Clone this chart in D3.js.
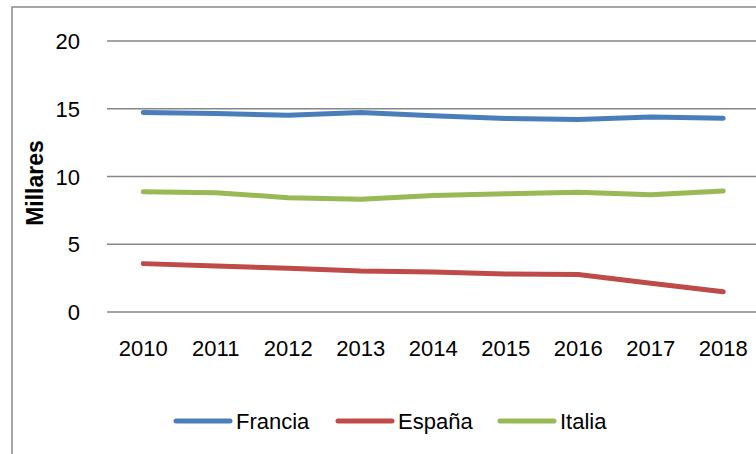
<!DOCTYPE html>
<html>
<head>
<meta charset="utf-8">
<script src="https://cdn.jsdelivr.net/npm/d3@7"></script>
<style>
  html, body { margin: 0; padding: 0; background: #fff; }
  svg { display: block; font-family: "Liberation Sans", Arial, sans-serif; }
</style>
</head>
<body>
<svg id="chart" width="756" height="454"></svg>
<script>
const years = ["2010","2011","2012","2013","2014","2015","2016","2017","2018"];
const francia = [14.72, 14.65, 14.52, 14.72, 14.48, 14.28, 14.2, 14.4, 14.3];
const espana  = [3.57, 3.4, 3.22, 3.03, 2.96, 2.8, 2.76, 2.12, 1.5];
const italia  = [8.88, 8.8, 8.44, 8.32, 8.6, 8.72, 8.84, 8.66, 8.93];
const yTicks = [0, 5, 10, 15, 20];
const seriesNames = ["Francia", "España", "Italia"];
const seriesColors = ["#4A7EBB", "#BE4B48", "#98B954"];
const yTitle = "Millares";

const series = [francia, espana, italia].map((v, i) => ({ name: seriesNames[i], values: v, color: seriesColors[i] }));

const svg = d3.select("#chart");

// outer frame
svg.append("rect").attr("x", 12).attr("y", 7).attr("width", 760).attr("height", 460)
  .attr("fill", "none").attr("stroke", "#898989").attr("stroke-width", 1.5);

const x = d3.scaleBand().domain(years).range([107, 759.5]);
const y = d3.scaleLinear().domain([0, 20]).range([312, 41]);

// gridlines
svg.append("g").selectAll("line").data(yTicks).join("line")
  .attr("x1", 107).attr("x2", 760)
  .attr("y1", d => y(d)).attr("y2", d => y(d))
  .attr("stroke", "#868686").attr("stroke-width", 1.5);

// y axis labels
const yAxis = d3.axisLeft(y).tickValues(yTicks).tickSize(0).tickPadding(0);
const gy = svg.append("g").attr("transform", "translate(80,0)").call(yAxis);
gy.select(".domain").remove();
gy.selectAll("text").attr("font-size", 22).attr("fill", "#000")
  .attr("font-family", "Liberation Sans, Arial, sans-serif").attr("dy", "0.35em");

// x axis labels
const xAxis = d3.axisBottom(x).tickSize(0).tickPadding(0);
const gx = svg.append("g").attr("transform", "translate(0,340)").call(xAxis);
gx.select(".domain").remove();
gx.selectAll("text").attr("font-size", 22).attr("fill", "#000")
  .attr("font-family", "Liberation Sans, Arial, sans-serif").attr("dy", "0.71em");

// y title
svg.append("text").attr("transform", "translate(43,183) rotate(-90)")
  .attr("text-anchor", "middle").attr("font-size", 23).attr("font-weight", "bold")
  .text(yTitle);

// lines
const line = d3.line().x((d, i) => x(years[i]) + x.bandwidth() / 2).y(d => y(d));
svg.append("g").selectAll("path").data(series).join("path")
  .attr("d", d => line(d.values))
  .attr("fill", "none").attr("stroke", d => d.color).attr("stroke-width", 5)
  .attr("stroke-linecap", "round").attr("stroke-linejoin", "round");

// legend
const legendX = [176, 338, 500];
const lg = svg.append("g").selectAll("g").data(series).join("g")
  .attr("transform", (d, i) => `translate(${legendX[i]},421)`);
lg.append("line").attr("x1", 0).attr("x2", 54).attr("y1", 0).attr("y2", 0)
  .attr("stroke", d => d.color).attr("stroke-width", 5).attr("stroke-linecap", "round");
lg.append("text").attr("x", 60).attr("y", 0).attr("dy", "0.35em")
  .attr("font-size", 22).text(d => d.name);
</script>
</body>
</html>
